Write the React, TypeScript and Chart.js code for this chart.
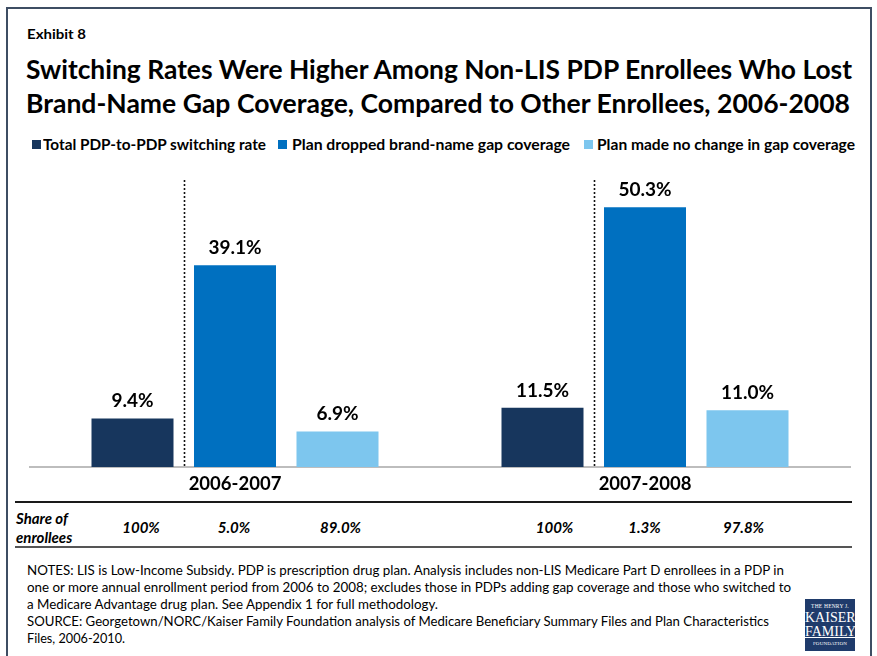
import React, { useEffect, useLayoutEffect, useRef } from 'react';
import { Chart, registerables } from 'chart.js';

Chart.register(...registerables);

const categories = ['2006-2007', '2007-2008'];
const seriesNames = [
  'Total PDP-to-PDP switching rate',
  'Plan dropped brand-name gap coverage',
  'Plan made no change in gap coverage',
];
const totalRate = [9.4, 11.5];
const droppedRate = [39.1, 50.3];
const noChangeRate = [6.9, 11.0];
const shareTotal = ['100%', '100%'];
const shareDropped = ['5.0%', '1.3%'];
const shareNoChange = ['89.0%', '97.8%'];
const seriesColors = ['#17365d', '#0070c0', '#7dc6ee'];

const titleLines = [
  'Switching Rates Were Higher Among Non-LIS PDP Enrollees Who Lost',
  'Brand-Name Gap Coverage, Compared to Other Enrollees, 2006-2008',
];
const noteLines = [
  'NOTES: LIS is Low-Income Subsidy. PDP is prescription drug plan. Analysis includes non-LIS Medicare Part D enrollees in a PDP in',
  'one or more annual enrollment period from 2006 to 2008; excludes those in PDPs adding gap coverage and those who switched to',
  'a Medicare Advantage drug plan. See Appendix 1 for full methodology.',
  'SOURCE: Georgetown/NORC/Kaiser Family Foundation analysis of Medicare Beneficiary Summary Files and Plan Characteristics',
  'Files, 2006-2010.',
];

const FONT = 'Lato, "Open Sans", sans-serif';

function Fit(props: { width: number; left: number; top: number; style?: React.CSSProperties; children: React.ReactNode }) {
  const ref = useRef<HTMLSpanElement>(null);
  useLayoutEffect(() => {
    const el = ref.current;
    if (!el) return;
    el.style.transform = 'none';
    const w = el.getBoundingClientRect().width;
    if (w > 0) el.style.transform = `scaleX(${props.width / w})`;
  });
  return (
    <span
      ref={ref}
      style={{
        position: 'absolute',
        left: props.left,
        top: props.top,
        display: 'inline-block',
        whiteSpace: 'nowrap',
        transformOrigin: 'left center',
        ...props.style,
      }}
    >
      {props.children}
    </span>
  );
}

const valueLabelPlugin = {
  id: 'valueLabels',
  afterDatasetsDraw(chart: any) {
    const ctx = chart.ctx;
    ctx.save();
    ctx.font = `bold 19px ${FONT}`;
    ctx.fillStyle = '#000';
    ctx.textAlign = 'center';
    ctx.textBaseline = 'alphabetic';
    chart.data.datasets.forEach((ds: any, i: number) => {
      const meta = chart.getDatasetMeta(i);
      meta.data.forEach((bar: any, j: number) => {
        ctx.fillText(`${Number(ds.data[j]).toFixed(1)}%`, bar.x, bar.y - 11);
      });
    });
    ctx.restore();
  },
};

const separatorPlugin = {
  id: 'separators',
  afterDatasetsDraw(chart: any) {
    const ctx = chart.ctx;
    const m0 = chart.getDatasetMeta(0);
    const m1 = chart.getDatasetMeta(1);
    ctx.save();
    ctx.strokeStyle = '#111';
    ctx.lineWidth = 1.6;
    ctx.setLineDash([2, 2]);
    m0.data.forEach((b0: any, j: number) => {
      const b1 = m1.data[j];
      const x = Math.round((b0.x + b0.width / 2 + b1.x - b1.width / 2) / 2) + 0.5;
      ctx.beginPath();
      ctx.moveTo(x, chart.chartArea.top);
      ctx.lineTo(x, chart.chartArea.bottom);
      ctx.stroke();
    });
    ctx.restore();
  },
};

function BarChart() {
  const ref = useRef<HTMLCanvasElement>(null);
  useEffect(() => {
    if (!ref.current) return;
    const chart = new Chart(ref.current, {
      type: 'bar',
      data: {
        labels: categories,
        datasets: [totalRate, droppedRate, noChangeRate].map((d, i) => ({
          label: seriesNames[i],
          data: d,
          backgroundColor: seriesColors[i],
          borderWidth: 0,
          categoryPercentage: 0.75,
          barPercentage: 0.8,
        })),
      },
      options: {
        responsive: false,
        animation: false,
        devicePixelRatio: 1,
        layout: { padding: { left: 30, right: 27, top: 30, bottom: 0 } },
        scales: {
          x: {
            grid: { display: false, drawTicks: false },
            border: { display: true, color: '#bdbdbd', width: 2 },
            ticks: { color: '#000', font: { family: FONT, size: 18.5, weight: 'bold' }, padding: 6 },
            afterFit: (s: any) => {
              s.height = 33;
            },
          },
          y: { display: false, min: 0, max: 55.6 },
        },
        plugins: { legend: { display: false }, tooltip: { enabled: false } },
      },
      plugins: [separatorPlugin, valueLabelPlugin],
    } as any);
    return () => chart.destroy();
  }, []);
  return <canvas ref={ref} width={877} height={350} style={{ position: 'absolute', left: 0, top: 150 }} />;
}

export default function App() {
  const legendSquares = [32, 278, 584];
  const legendTexts = [43, 292, 597];
  const legendWidths = [223, 278, 258];
  const shareX = [141, 234, 340.5, 554.5, 644.5, 743.5];
  const shareVals = [shareTotal[0], shareDropped[0], shareNoChange[0], shareTotal[1], shareDropped[1], shareNoChange[1]];
  const noteWidths = [757, 764, 411, 742, 98];
  return (
    <div
      style={{
        position: 'fixed',
        left: 0,
        top: 0,
        width: 877,
        height: 656,
        overflow: 'hidden',
        background: '#fff',
        fontFamily: FONT,
        color: '#000',
      }}
    >
      <div
        style={{
          position: 'absolute',
          left: 6,
          top: 7,
          width: 862,
          height: 700,
          border: '2px solid #3e4d63',
          boxSizing: 'content-box',
        }}
      />
      <Fit width={59} left={27} top={25} style={{ fontSize: 14, fontWeight: 700, lineHeight: '18px' }}>
        Exhibit 8
      </Fit>
      {titleLines.map((t, i) => (
        <Fit
          key={i}
          width={i === 0 ? 826 : 824}
          left={26}
          top={52 + i * 34}
          style={{ fontSize: 27, fontWeight: 700, lineHeight: '34px' }}
        >
          {t}
        </Fit>
      ))}
      {seriesNames.map((n, i) => (
        <React.Fragment key={i}>
          <div
            style={{
              position: 'absolute',
              left: legendSquares[i],
              top: 140,
              width: 9,
              height: 9,
              background: seriesColors[i],
            }}
          />
          <Fit
            width={legendWidths[i]}
            left={legendTexts[i]}
            top={135}
            style={{ fontSize: 15, fontWeight: 700, lineHeight: '18px' }}
          >
            {n}
          </Fit>
        </React.Fragment>
      ))}
      <BarChart />
      <div style={{ position: 'absolute', left: 15, top: 501, width: 837, height: 2, background: '#1a1a1a' }} />
      <div style={{ position: 'absolute', left: 15, top: 546, width: 837, height: 2, background: '#555' }} />
      <div
        style={{
          position: 'absolute',
          left: 16,
          top: 509,
          fontSize: 15,
          fontWeight: 700,
          fontStyle: 'italic',
          lineHeight: '19px',
        }}
      >
        Share of
        <br />
        enrollees
      </div>
      {shareVals.map((v, i) => (
        <div
          key={i}
          style={{
            position: 'absolute',
            left: shareX[i] - 40,
            width: 80,
            top: 517,
            textAlign: 'center',
            fontSize: 15,
            fontWeight: 700,
            fontStyle: 'italic',
            lineHeight: '20px',
          }}
        >
          {v}
        </div>
      ))}
      {noteLines.map((t, i) => (
        <Fit key={i} width={noteWidths[i]} left={27} top={562 + i * 17} style={{ fontSize: 13, lineHeight: '17px' }}>
          {t}
        </Fit>
      ))}
      <div
        style={{
          position: 'absolute',
          left: 805,
          top: 599,
          width: 50,
          height: 52,
          background: '#1f3b6b',
          color: '#fff',
          fontFamily: '"Liberation Serif", "DejaVu Serif", serif',
          textAlign: 'center',
          lineHeight: 1,
        }}
      >
        <div style={{ fontSize: 5.5, marginTop: 5, letterSpacing: 0.2 }}>THE HENRY J.</div>
        <div style={{ fontSize: 14, marginTop: 1 }}>KAISER</div>
        <div style={{ fontSize: 14, textDecoration: 'underline', textDecorationThickness: 1 }}>FAMILY</div>
        <div style={{ fontSize: 5, marginTop: 2, letterSpacing: 0.2 }}>FOUNDATION</div>
      </div>
    </div>
  );
}
